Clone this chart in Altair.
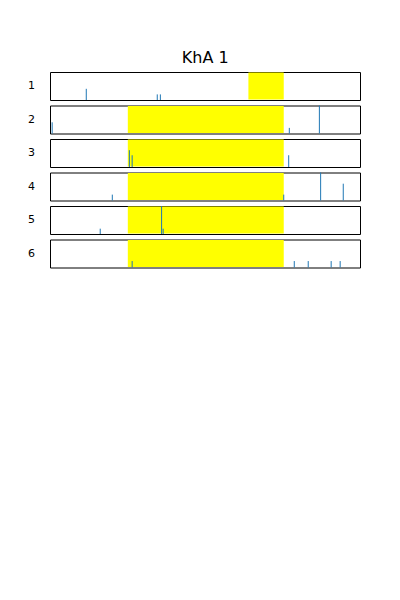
import altair as alt
import pandas as pd

rows = ["1", "2", "3", "4", "5", "6"]
band_start = [64.0, 25.1, 25.1, 25.1, 25.1, 25.1]
band_end = [75.4, 75.4, 75.4, 75.4, 75.4, 75.4]

spike_pos = [
    [11.7, 34.6, 35.6],
    [0.7, 77.2, 86.9],
    [25.6, 26.5, 77.0],
    [20.1, 75.4, 87.3, 94.6],
    [16.2, 36.0, 36.5],
    [26.5, 78.8, 83.3, 90.7, 93.6],
]
spike_h = [
    [0.4, 0.2, 0.2],
    [0.4, 0.2, 1.0],
    [0.6, 0.42, 0.42],
    [0.21, 0.21, 1.0, 0.6],
    [0.19, 1.0, 0.19],
    [0.23, 0.23, 0.23, 0.23, 0.23],
]

recs = []
for r, s, e in zip(rows, band_start, band_end):
    recs.append({"row": r, "kind": "band", "x": s, "x2": e, "h": None})
for r, ps, hs in zip(rows, spike_pos, spike_h):
    for p, h in zip(ps, hs):
        recs.append({"row": r, "kind": "spike", "x": p, "x2": None, "h": h})
df = pd.DataFrame(recs)

xs = alt.Scale(domain=[0, 100], nice=False, zero=False)
H = 28

band = alt.Chart().transform_filter(alt.datum.kind == "band").mark_rect(
    color="#ffff00"
).encode(
    x=alt.X("x:Q", scale=xs, axis=None),
    x2="x2:Q",
    y=alt.value(0.5),
    y2=alt.value(H - 0.5),
)

spikes = alt.Chart().transform_filter(alt.datum.kind == "spike").mark_rule(
    color="#1f77b4", strokeWidth=1
).encode(
    x=alt.X("x:Q", scale=xs, axis=None),
    y=alt.Y("h:Q", scale=alt.Scale(domain=[0, 1], nice=False), axis=None),
    y2=alt.datum(0),
)

chart = alt.layer(band, spikes, data=df).properties(
    width=310, height=H
).facet(
    row=alt.Row(
        "row:N",
        sort=rows,
        header=alt.Header(
            title=None,
            labelAngle=0,
            labelOrient="left",
            labelFontSize=11,
            labelFont="DejaVu Sans",
            labelColor="black",
            labelPadding=7,
        ),
    ),
    spacing=3.5,
).properties(
    title=alt.TitleParams(
        "KhA 1", fontSize=16, font="DejaVu Sans", fontWeight="normal",
        anchor="middle", offset=6, color="black", dx=11
    ),
    padding={"left": 28, "top": 49, "right": 10, "bottom": 10},
).configure_view(
    stroke="black", strokeWidth=1
)

chart.save("out.html", embed_options={"renderer": "svg", "actions": False})
